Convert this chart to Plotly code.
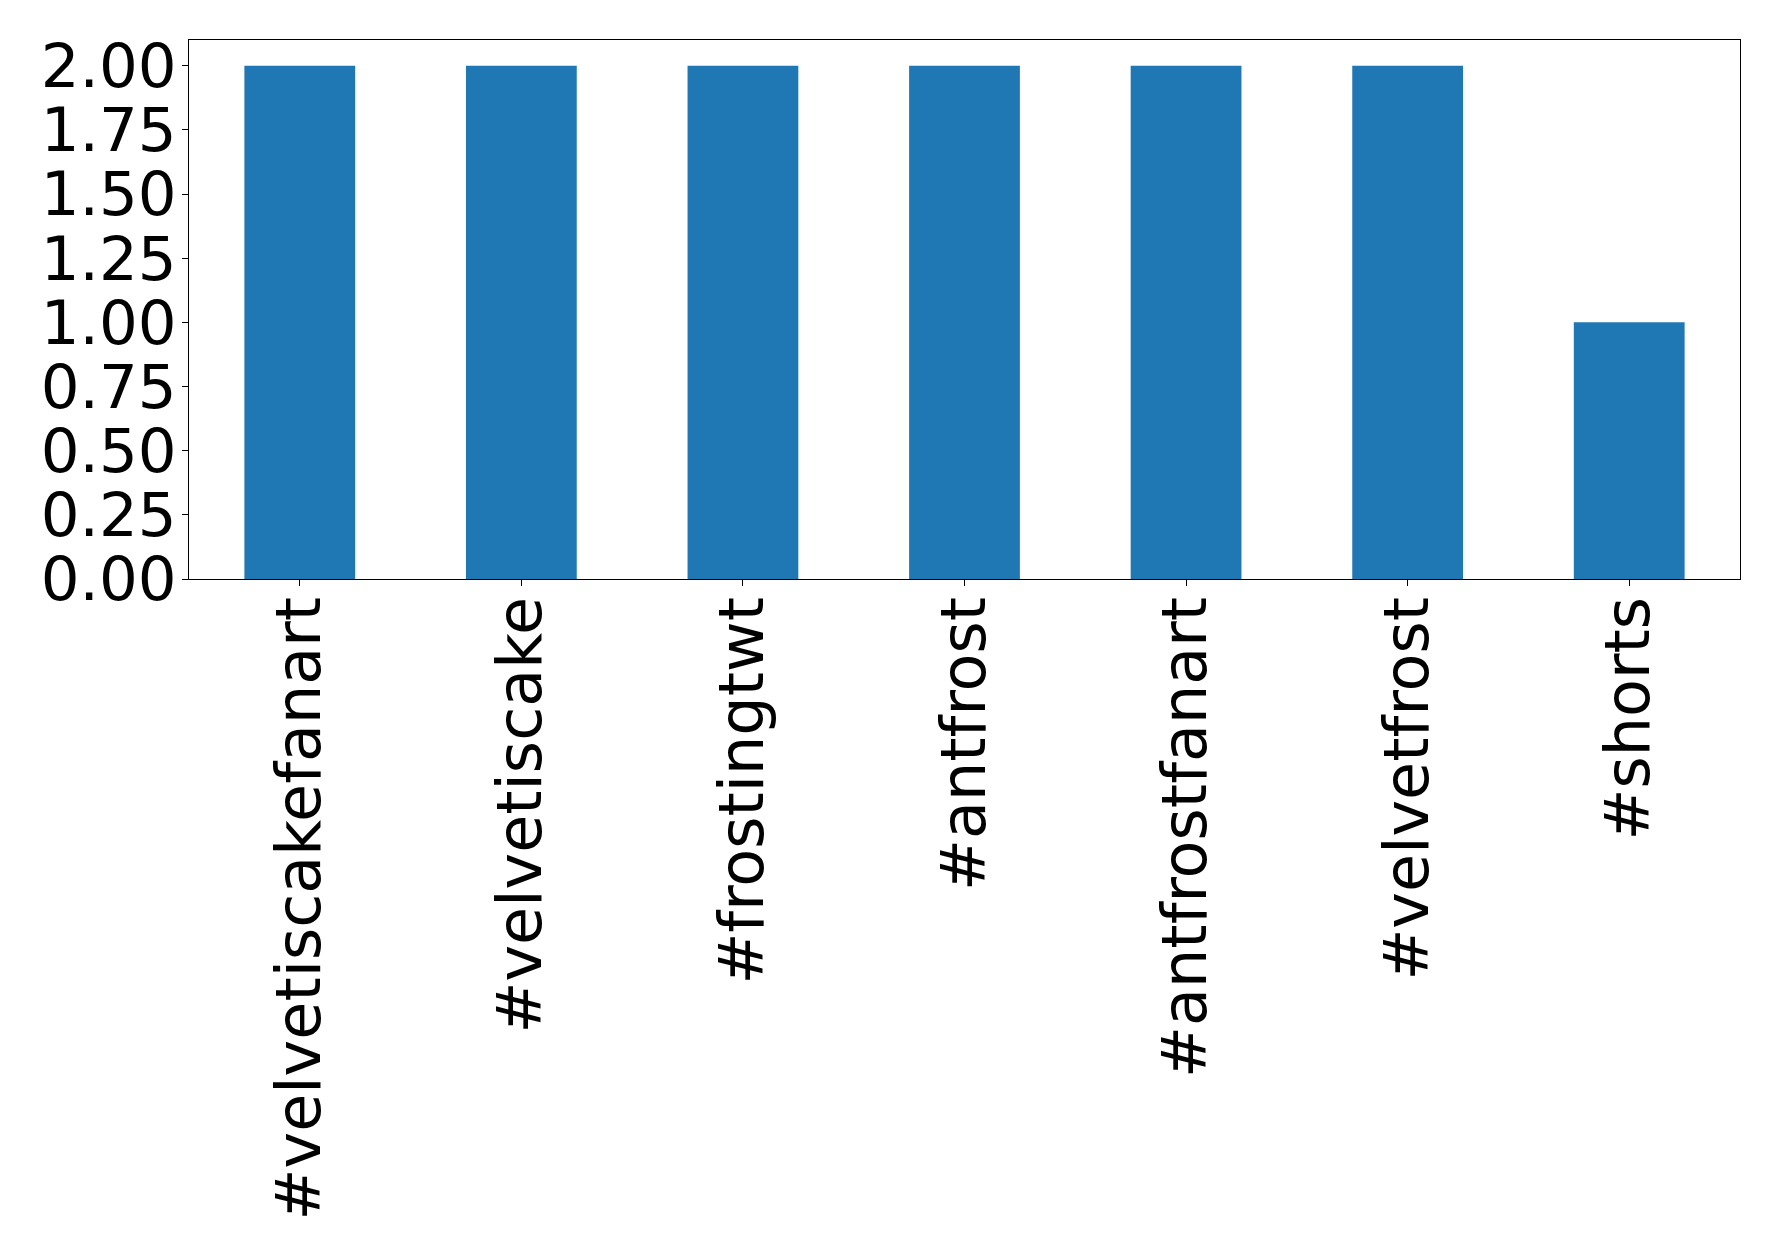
import plotly.graph_objects as go

categories = ["#velvetiscakefanart", "#velvetiscake", "#frostingtwt", "#antfrost",
              "#antfrostfanart", "#velvetfrost", "#shorts"]
counts = [2, 2, 2, 2, 2, 2, 1]
y_ticks = [0, 0.25, 0.5, 0.75, 1.0, 1.25, 1.5, 1.75, 2.0]
y_tick_labels = ["0.00", "0.25", "0.50", "0.75", "1.00", "1.25", "1.50", "1.75", "2.00"]

fig = go.Figure(go.Bar(x=list(range(len(categories))), y=counts, width=0.5,
                       marker=dict(color="#1f77b4", line=dict(width=0))))

axis_common = dict(showline=True, linecolor="black", linewidth=1.3, mirror=True,
                   ticks="outside", ticklen=6, tickwidth=1.3, tickcolor="black",
                   showgrid=False, zeroline=False)

fig.update_layout(
    width=1778, height=1257,
    margin=dict(l=181, r=46, t=32, b=686),
    plot_bgcolor="white", paper_bgcolor="white",
    showlegend=False,
    xaxis=dict(range=[-0.5, 6.5], tickmode="array", tickvals=list(range(len(categories))),
               ticktext=categories, tickangle=-90, ticklabelstandoff=-14,
               tickfont=dict(family="DejaVu Sans", size=62, color="black"), **axis_common),
    yaxis=dict(range=[0, 2.1], tickmode="array", tickvals=y_ticks, ticktext=y_tick_labels,
               ticklabelstandoff=-7,
               tickfont=dict(family="DejaVu Sans", size=61, color="black"), **axis_common),
)

fig.write_html("out.html")
